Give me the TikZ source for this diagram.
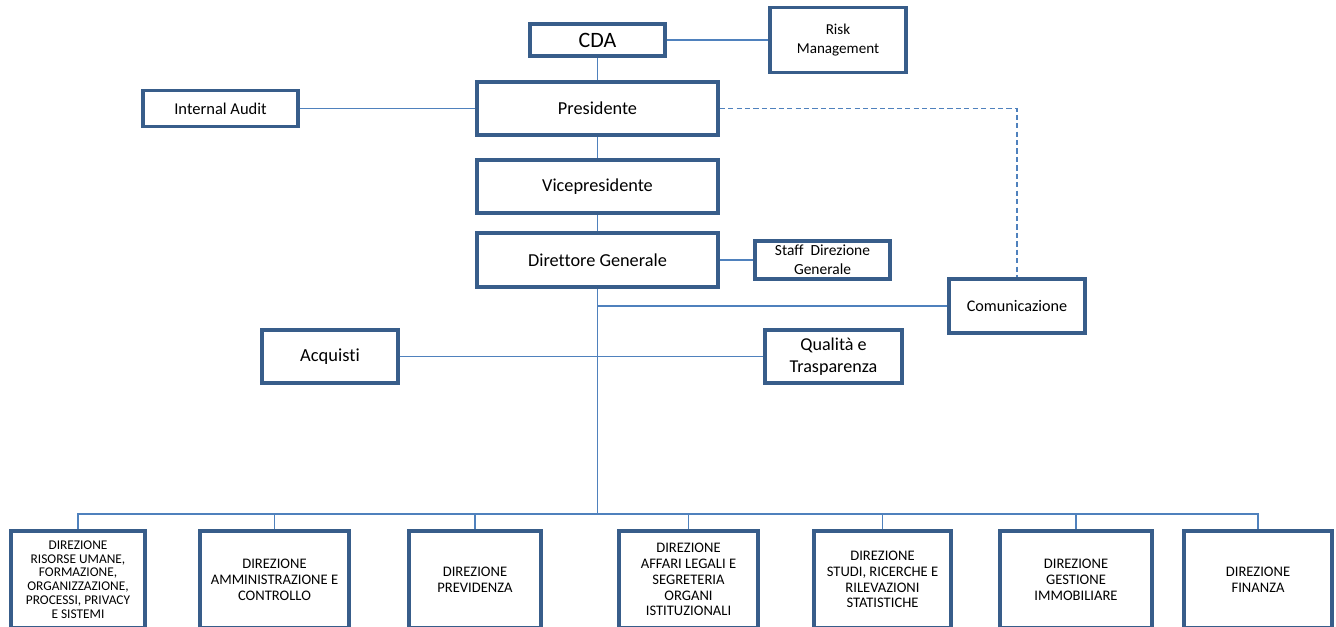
\documentclass[tikz,border=0pt]{standalone}
\usepackage{fontspec}
\setmainfont{Carlito}[Ligatures=NoCommon]
\definecolor{boxblue}{RGB}{56,93,138}
\definecolor{lineblue}{RGB}{79,129,189}

\begin{document}
\begin{tikzpicture}[x=0.02cm,y=-0.02cm,
                    main node/.style={rectangle,draw=boxblue,line width=1.9pt,fill=white,inner sep=1pt,align=center},
                    dir node/.style={main node,minimum height=1.94cm,font=\fontsize{8.3}{9}\selectfont},
                    link/.style={draw=lineblue,line width=1.1pt}]
  \useasboundingbox (0,0) rectangle (1336,626);

  % top of the chart
  \node[main node,minimum width=2.7cm,minimum height=0.64cm,font=\fontsize{12.5}{15}\selectfont] (cda) at (597.5,40) {CDA};
  \node[main node,minimum width=2.72cm,minimum height=1.3cm,font=\fontsize{8.6}{10.6}\selectfont] (risk) at (838,40) {Risk\\Management};
  \node[main node,minimum width=4.82cm,minimum height=1.06cm,font=\fontsize{10.4}{12.5}\selectfont] (pres) at (597.5,108.5) {Presidente};
  \node[main node,minimum width=3.1cm,minimum height=0.72cm,font=\fontsize{9.4}{11}\selectfont] (audit) at (220.5,108.5) {Internal Audit};
  \node[main node,minimum width=4.82cm,minimum height=1.06cm,font=\fontsize{10.4}{12.5}\selectfont] (vice) at (597.5,186.5) {Vicepresidente};
  \node[main node,minimum width=4.82cm,minimum height=1.08cm,font=\fontsize{10.4}{12.5}\selectfont] (dg) at (597.5,260) {Direttore Generale};
  \node[main node,minimum width=2.7cm,minimum height=0.76cm,font=\fontsize{8.8}{10.6}\selectfont] (staff) at (822.5,260) {Staff~ Direzione\\Generale};
  \node[main node,minimum width=2.72cm,minimum height=1.08cm,font=\fontsize{9.2}{11}\selectfont] (comm) at (1017,306) {Comunicazione};
  \node[main node,minimum width=2.72cm,minimum height=1.06cm,font=\fontsize{10.5}{12.6}\selectfont] (acq) at (330,356.5) {Acquisti};
  \node[main node,minimum width=2.74cm,minimum height=1.06cm,font=\fontsize{10.3}{12.4}\selectfont] (qual) at (833.5,356.5) {Qualità e\\Trasparenza};
  \coordinate (bus) at (597.5,514);

  % direzioni
  \node[dir node,minimum width=2.68cm,font=\fontsize{7.6}{7.8}\selectfont] (d1) at (78,579.5) {DIREZIONE\\RISORSE UMANE,\\FORMAZIONE,\\ORGANIZZAZIONE,\\PROCESSI, PRIVACY\\E SISTEMI};
  \node[dir node,minimum width=2.98cm] (d2) at (274.5,579.5) {DIREZIONE\\AMMINISTRAZIONE E\\CONTROLLO};
  \node[dir node,minimum width=2.64cm] (d3) at (475,579.5) {DIREZIONE\\PREVIDENZA};
  \node[dir node,minimum width=2.78cm] (d4) at (688.5,579.5) {DIREZIONE\\AFFARI LEGALI E\\SEGRETERIA\\ORGANI\\ISTITUZIONALI};
  \node[dir node,minimum width=2.74cm] (d5) at (882.5,579.5) {DIREZIONE\\STUDI, RICERCHE E\\RILEVAZIONI\\STATISTICHE};
  \node[dir node,minimum width=3.04cm] (d6) at (1076,579.5) {DIREZIONE\\GESTIONE\\IMMOBILIARE};
  \node[dir node,minimum width=2.96cm] (d7) at (1258,579.5) {DIREZIONE\\FINANZA};

  \path[link]
    (cda) edge (pres)
    (cda) edge (risk)
    (audit) edge (pres)
    (pres) edge (vice)
    (vice) edge (dg)
    (dg) edge (staff)
    (acq) edge (qual);
  \draw[link] (dg) -- (bus);
  \draw[link] (comm) -- (comm -| dg);
  \draw[link,dash pattern=on 3pt off 1.8pt] (pres) -| (comm);
  \draw[link] (bus) -| (d1);
  \draw[link] (bus) -| (d2);
  \draw[link] (bus) -| (d3);
  \draw[link] (bus) -| (d4);
  \draw[link] (bus) -| (d5);
  \draw[link] (bus) -| (d6);
  \draw[link] (bus) -| (d7);
\end{tikzpicture}
\end{document}
